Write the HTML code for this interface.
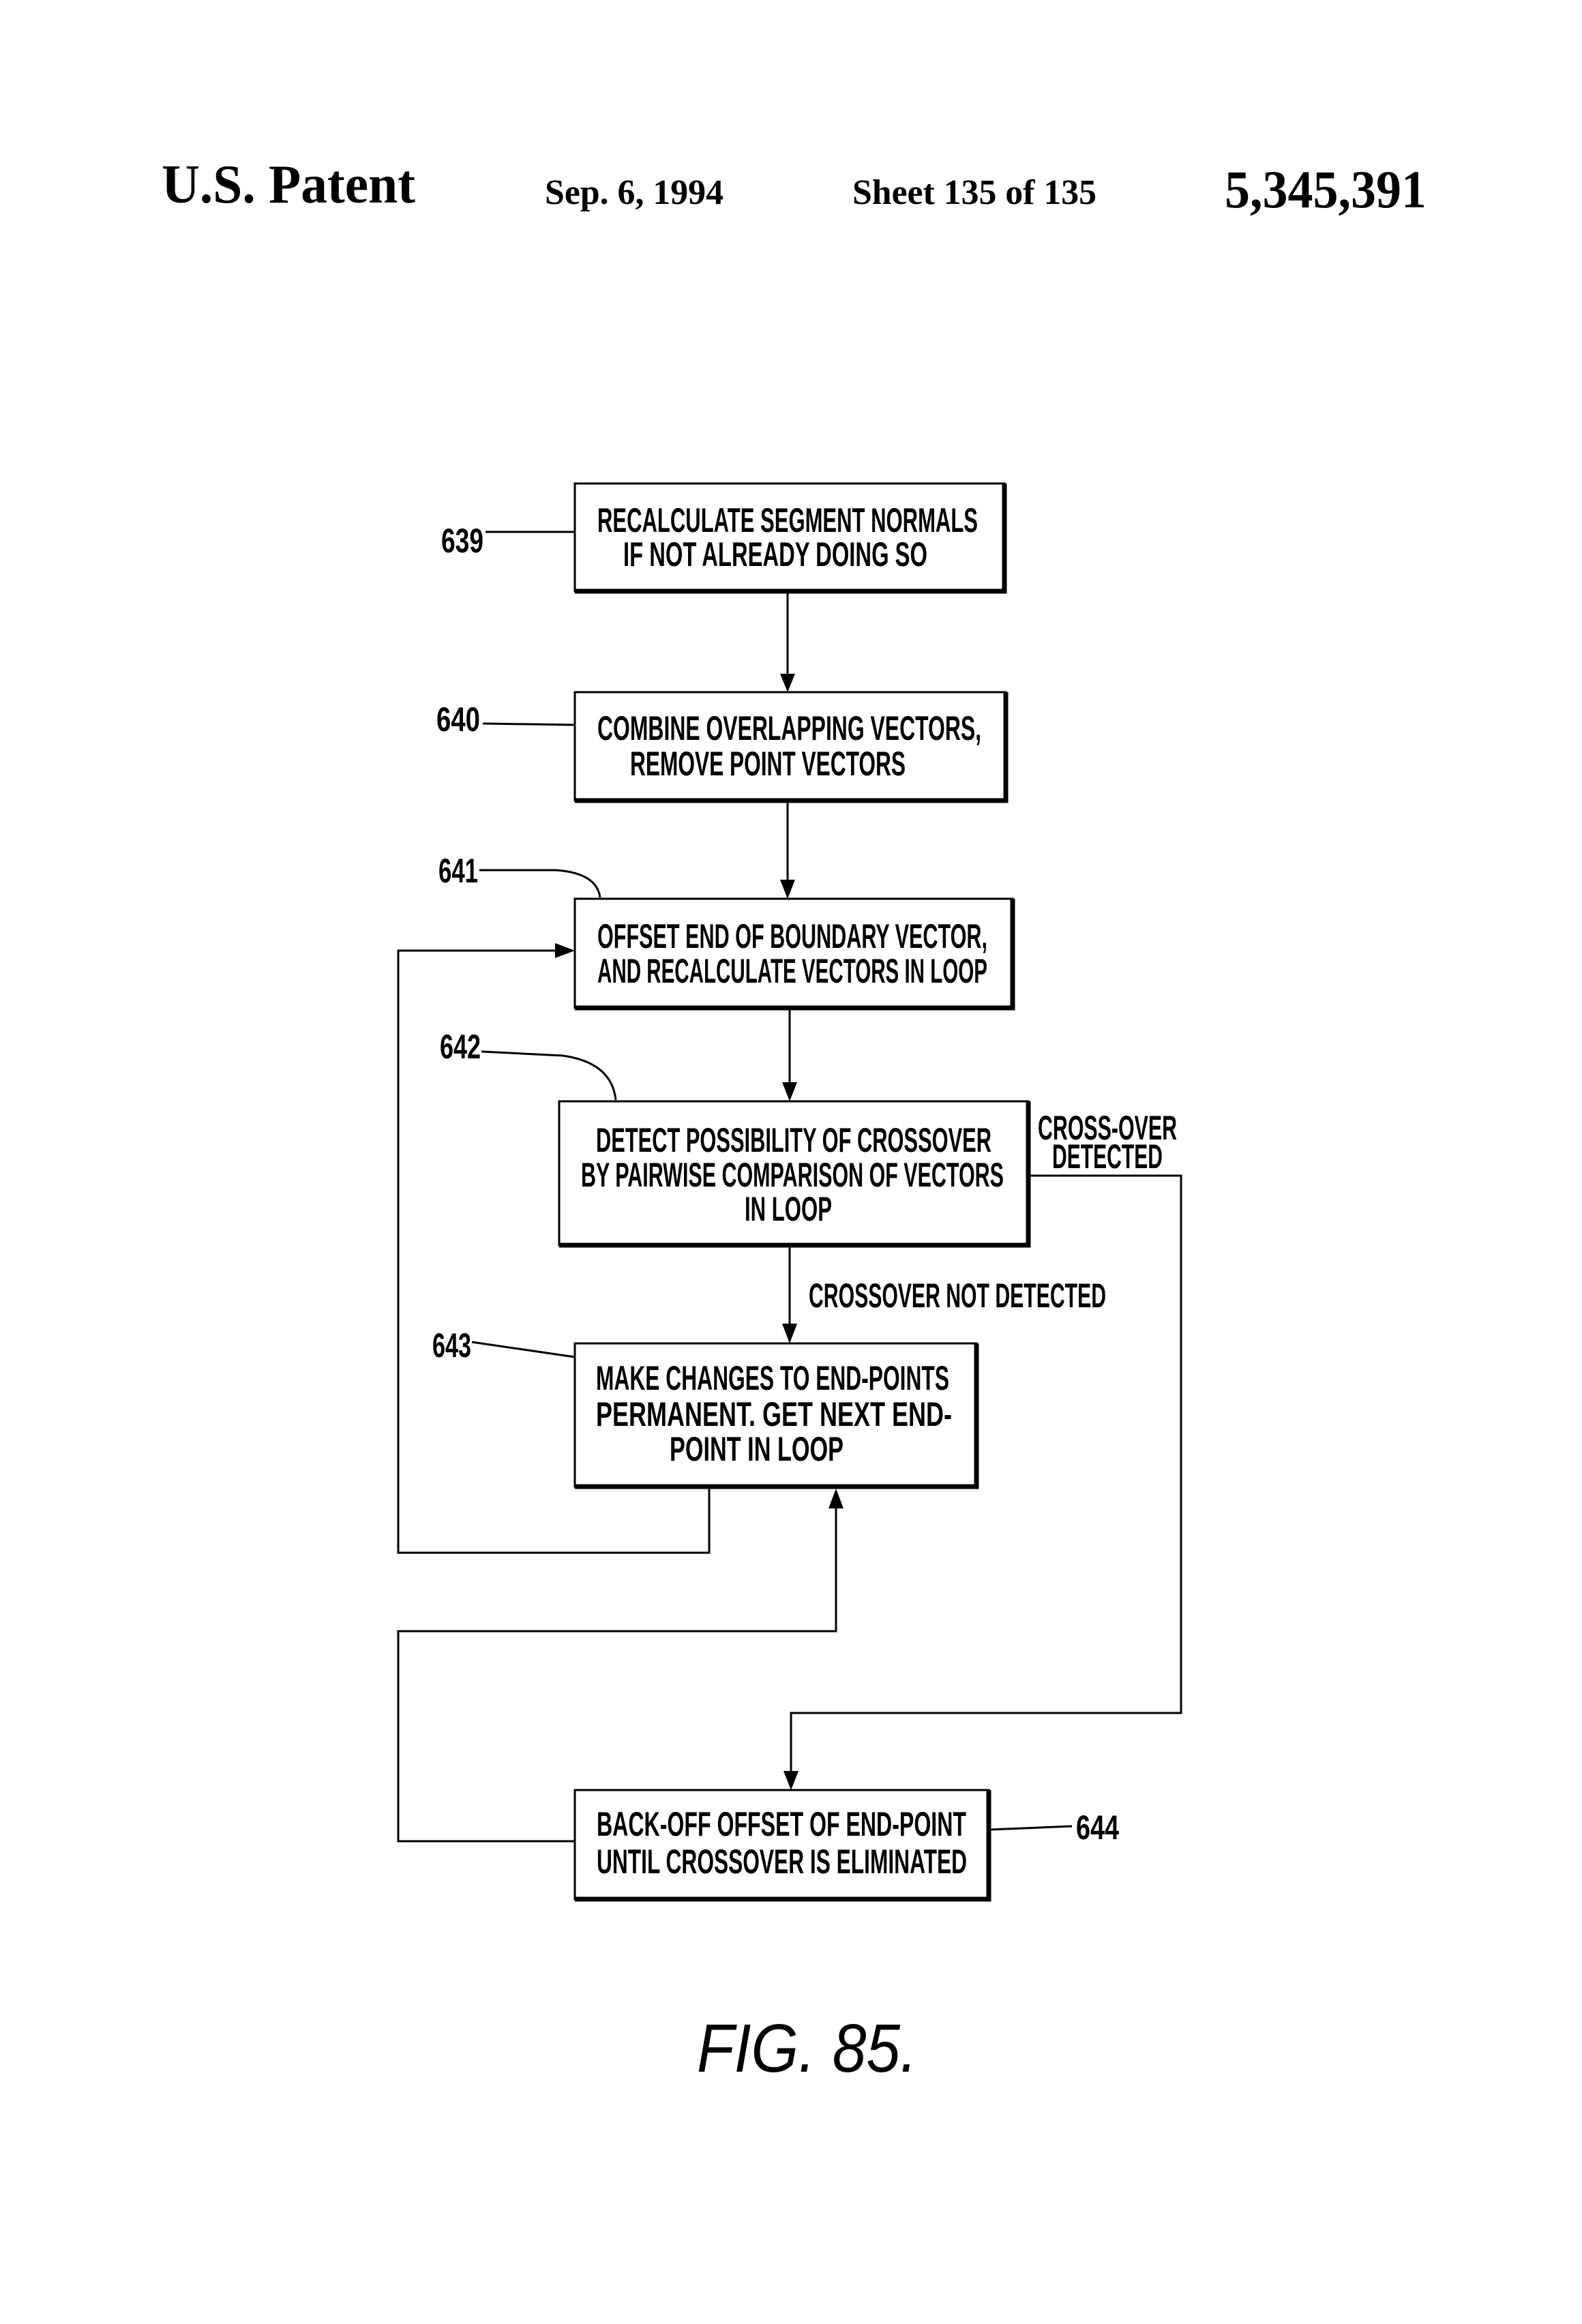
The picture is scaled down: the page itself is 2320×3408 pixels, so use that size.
<!DOCTYPE html>
<html><head><meta charset="utf-8"><style>
html,body{margin:0;padding:0;background:#fff;}
svg{display:block;}
.t{font-family:"Liberation Sans",sans-serif;font-weight:bold;font-size:50px;fill:#000;}
.h{font-family:"Liberation Serif",serif;font-weight:bold;fill:#000;}
</style></head><body>
<svg width="2320" height="3408" viewBox="0 0 2320 3408" xmlns="http://www.w3.org/2000/svg">
<text class="h" x="237" y="297" font-size="80" textLength="372" lengthAdjust="spacingAndGlyphs">U.S. Patent</text>
<text class="h" x="799" y="299" font-size="52" textLength="262" lengthAdjust="spacingAndGlyphs">Sep. 6, 1994</text>
<text class="h" x="1250" y="299" font-size="52" textLength="358" lengthAdjust="spacingAndGlyphs">Sheet 135 of 135</text>
<text class="h" x="1796" y="304" font-size="78" textLength="296" lengthAdjust="spacingAndGlyphs">5,345,391</text>

<g fill="none" stroke="#000" stroke-width="3">
<rect x="843" y="709" width="630" height="158"/>
<rect x="843" y="1015" width="632" height="159"/>
<rect x="843" y="1318" width="642" height="160"/>
<rect x="820" y="1615" width="688" height="211"/>
<rect x="843" y="1970" width="589" height="210"/>
<rect x="843" y="2625" width="607" height="160"/>
</g>
<g stroke="#000" stroke-width="7" fill="none">
<polyline points="843,867 1473,867 1473,709"/>
<polyline points="843,1174 1475,1174 1475,1015"/>
<polyline points="843,1478 1485,1478 1485,1318"/>
<polyline points="820,1826 1508,1826 1508,1615"/>
<polyline points="843,2180 1432,2180 1432,1970"/>
<polyline points="843,2785 1450,2785 1450,2625"/>
</g>

<g fill="none" stroke="#000" stroke-width="3">
<line x1="1155" y1="870" x2="1155" y2="990"/>
<line x1="1155" y1="1177" x2="1155" y2="1292"/>
<line x1="1158" y1="1481" x2="1158" y2="1589"/>
<line x1="1158" y1="1829" x2="1158" y2="1943"/>
<polyline points="1040,2183 1040,2277 584,2277 584,1394 818,1394"/>
<polyline points="843,2700 584,2700 584,2392 1226,2392 1226,2210"/>
<polyline points="1508,1724 1732,1724 1732,2512 1160,2512 1160,2598"/>
<line x1="712" y1="780" x2="843" y2="780"/>
<line x1="708" y1="1061" x2="843" y2="1063"/>
<path d="M703,1276 L815,1276 Q875,1280 880,1316"/>
<path d="M706,1542 L825,1548 Q897,1558 903,1613"/>
<line x1="692" y1="1968" x2="843" y2="1990"/>
<line x1="1452" y1="2683" x2="1572" y2="2678"/>
</g>
<g fill="#000">
<polygon points="1144,988 1166,988 1155,1015"/>
<polygon points="1144,1290 1166,1290 1155,1318"/>
<polygon points="1147,1587 1169,1587 1158,1615"/>
<polygon points="1147,1941 1169,1941 1158,1970"/>
<polygon points="814,1383 814,1405 843,1394"/>
<polygon points="1215,2212 1237,2212 1226,2183"/>
<polygon points="1149,2597 1171,2597 1160,2625"/>
</g>

<text class="t" x="647" y="810" textLength="62" lengthAdjust="spacingAndGlyphs">639</text>
<text class="t" x="640" y="1072" textLength="64" lengthAdjust="spacingAndGlyphs">640</text>
<text class="t" x="643" y="1294" textLength="58" lengthAdjust="spacingAndGlyphs">641</text>
<text class="t" x="645" y="1552" textLength="60" lengthAdjust="spacingAndGlyphs">642</text>
<text class="t" x="634" y="1990" textLength="57" lengthAdjust="spacingAndGlyphs">643</text>
<text class="t" x="1578" y="2697" textLength="63" lengthAdjust="spacingAndGlyphs">644</text>

<text class="t" x="876" y="780" textLength="558" lengthAdjust="spacingAndGlyphs">RECALCULATE SEGMENT NORMALS</text>
<text class="t" x="914" y="830" textLength="446" lengthAdjust="spacingAndGlyphs">IF NOT ALREADY DOING SO</text>
<text class="t" x="876" y="1085" textLength="563" lengthAdjust="spacingAndGlyphs">COMBINE OVERLAPPING VECTORS,</text>
<text class="t" x="924" y="1137" textLength="404" lengthAdjust="spacingAndGlyphs">REMOVE POINT VECTORS</text>
<text class="t" x="876" y="1390" textLength="572" lengthAdjust="spacingAndGlyphs">OFFSET END OF BOUNDARY VECTOR,</text>
<text class="t" x="876" y="1441" textLength="572" lengthAdjust="spacingAndGlyphs">AND RECALCULATE VECTORS IN LOOP</text>
<text class="t" x="874" y="1689" textLength="580" lengthAdjust="spacingAndGlyphs">DETECT POSSIBILITY OF CROSSOVER</text>
<text class="t" x="852" y="1740" textLength="620" lengthAdjust="spacingAndGlyphs">BY PAIRWISE COMPARISON OF VECTORS</text>
<text class="t" x="1092" y="1790" textLength="128" lengthAdjust="spacingAndGlyphs">IN LOOP</text>
<text class="t" x="1522" y="1671" textLength="204" lengthAdjust="spacingAndGlyphs">CROSS-OVER</text>
<text class="t" x="1543" y="1713" textLength="162" lengthAdjust="spacingAndGlyphs">DETECTED</text>
<text class="t" x="1186" y="1917" textLength="436" lengthAdjust="spacingAndGlyphs">CROSSOVER NOT DETECTED</text>
<text class="t" x="874" y="2038" textLength="518" lengthAdjust="spacingAndGlyphs">MAKE CHANGES TO END-POINTS</text>
<text class="t" x="874" y="2091" textLength="522" lengthAdjust="spacingAndGlyphs">PERMANENT.  GET NEXT END-</text>
<text class="t" x="982" y="2142" textLength="255" lengthAdjust="spacingAndGlyphs">POINT IN LOOP</text>
<text class="t" x="875" y="2692" textLength="542" lengthAdjust="spacingAndGlyphs">BACK-OFF OFFSET OF END-POINT</text>
<text class="t" x="875" y="2747" textLength="543" lengthAdjust="spacingAndGlyphs">UNTIL CROSSOVER IS ELIMINATED</text>

<text x="1022" y="3038" font-family="Liberation Sans, sans-serif" font-style="italic" font-size="100" textLength="323" lengthAdjust="spacingAndGlyphs" fill="#000">FIG. 85.</text>
</svg>
</body></html>
